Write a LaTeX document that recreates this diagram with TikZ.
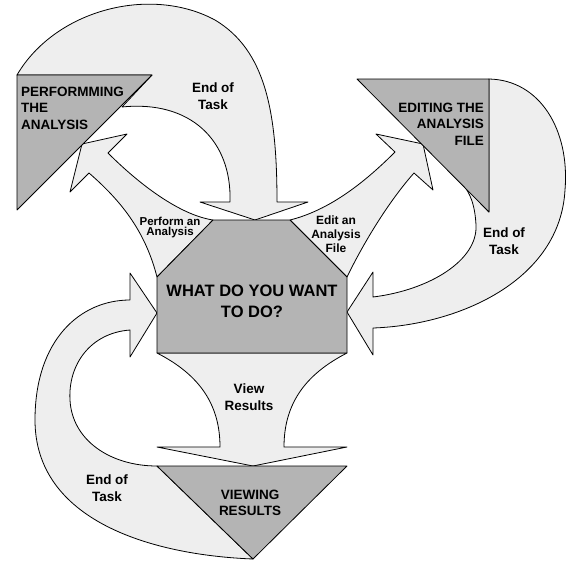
\documentclass[tikz,border=0pt]{standalone}
\usepackage{fontspec}
\setmainfont{Liberation Sans}
\definecolor{bandgray}{HTML}{EEEEEE}
\definecolor{boxgray}{HTML}{B4B4B4}
\begin{document}
\begin{tikzpicture}[x=1pt,y=-1pt,line cap=round,line join=round,
  band/.style={draw=black,fill=bandgray,line width=0.8pt},
  box/.style={draw=black,fill=boxgray,line width=0.8pt},
  lbl/.style={font=\fontsize{13.5}{16.5}\selectfont\bfseries,align=center,inner sep=0pt}]
\useasboundingbox (0,0) rectangle (568,560);

% end of task, back from performing
\draw[band] (17,75) .. controls (55,10) and (150,-15) .. (215,20)
  .. controls (265,50) and (277,110) .. (277,202) -- (308,202) -- (255,220)
  -- (200,202) -- (230,202) .. controls (232,140) and (190,100) .. (122,107)
  -- (152,75) -- cycle;
% perform an analysis
\draw[band] (82,144) -- (127,134) -- (108,153) .. controls (140,185) and (180,215) .. (213,220)
  -- (157,277) .. controls (145,230) and (120,200) .. (89,173) -- (70,192) -- cycle;
% edit an analysis file
\draw[band] (423,144) -- (376,134) -- (395,152) .. controls (365,182) and (330,210) .. (290,220)
  -- (347,277) .. controls (365,240) and (390,200) .. (414,173) -- (433,190) -- cycle;
% end of task, back from editing
\draw[band] (489,79) .. controls (540,80) and (570,130) .. (565,190)
  .. controls (560,280) and (460,325) .. (373,328) -- (373,355) -- (347,312) -- (373,272)
  -- (373,297) .. controls (430,290) and (478,260) .. (476,225)
  .. controls (475,205) and (470,192) .. (462,184) -- (489,212) -- cycle;
% view results
\draw[band] (157,353) .. controls (200,375) and (220,405) .. (220,447) -- (157,447) -- (253,466)
  -- (347,447) -- (284,447) .. controls (284,405) and (304,375) .. (347,353) -- cycle;
% end of task, back from viewing
\draw[band] (253,559) .. controls (150,555) and (35,520) .. (35,420)
  .. controls (35,340) and (80,300) .. (130,300) -- (130,273) -- (157,313) -- (130,357)
  -- (130,330) .. controls (90,333) and (68,365) .. (70,400)
  .. controls (72,440) and (110,466) .. (157,466) -- cycle;

% the four boxes
\draw[box] (17,75) -- (152,75) -- (17,210) -- cycle;
\draw[box] (357,79) -- (489,79) -- (489,212) -- cycle;
\draw[box] (213,220) -- (290,220) -- (347,277) -- (347,353) -- (157,353) -- (157,277) -- cycle;
\draw[box] (157,466) -- (347,466) -- (253,559) -- cycle;

\node[lbl,anchor=west,align=left] (perfbox) at (21,108) {PERFORMMING\\THE\\ANALYSIS};
\node[lbl,anchor=east,align=right] (editbox) at (484,124) {EDITING THE\\ANALYSIS\\FILE};
\node[lbl,font=\fontsize{16.5}{21}\selectfont\bfseries] (whatbox) at (252,301) {WHAT DO YOU WANT\\TO DO?};
\node[lbl] (viewbox) at (250,503) {VIEWING\\RESULTS};
\node[lbl] (endtop) at (213,96) {End of\\Task};
\node[lbl] (endright) at (504,241) {End of\\Task};
\node[lbl] (endleft) at (107,488) {End of\\Task};
\node[lbl] (viewlbl) at (249,397) {View\\Results};
\node[lbl,font=\fontsize{11.5}{10}\selectfont\bfseries] (perflbl) at (170,228) {Perform an\\Analysis};
\node[lbl,font=\fontsize{12}{14}\selectfont\bfseries] (editlbl) at (336,234) {Edit an\\Analysis\\File};
\end{tikzpicture}
\end{document}
